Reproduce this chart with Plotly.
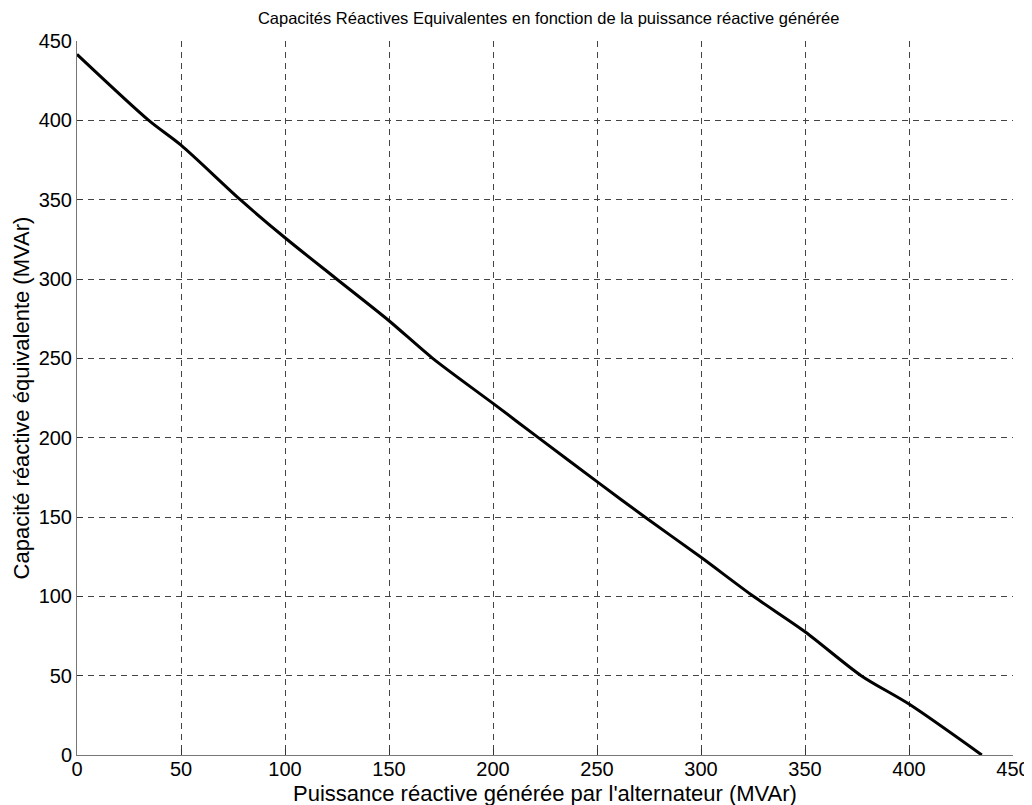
import plotly.graph_objects as go

q_gen = [0, 34.5, 50, 78.5, 100, 124.8, 150, 171, 200, 221.8, 250, 273, 300, 325.2, 350, 377, 400, 435]
cap_eq = [441.6, 400, 384.4, 350, 326, 300, 273.7, 250, 221.6, 200, 172.3, 150, 124.6, 100, 77.7, 50, 32.1, 0]

tick_vals = [0, 50, 100, 150, 200, 250, 300, 350, 400, 450]

title_text = "Capacités Réactives Equivalentes en fonction de la puissance réactive générée"
x_title = "Puissance réactive générée par l'alternateur (MVAr)"
y_title = "Capacité réactive équivalente (MVAr)"

fig = go.Figure()
fig.add_trace(go.Scatter(x=q_gen, y=cap_eq, mode="lines", line_shape="spline",
                         line=dict(color="black", width=3, smoothing=0.8), showlegend=False))

font_family = "Liberation Sans, Arial, sans-serif"
axis_common = dict(
    tickvals=tick_vals,
    range=[0, 450],
    showgrid=True,
    gridcolor="#444444",
    griddash="6px,5px",
    gridwidth=1,
    zeroline=False,
    showline=True,
    linecolor="#777777",
    linewidth=1,
    ticks="inside",
    ticklen=6,
    tickcolor="#333333",
    automargin=False,
    ticklabeloverflow="allow",
    tickfont=dict(family=font_family, size=20, color="black"),
)

fig.update_xaxes(**axis_common, ticklabelstandoff=-4)
fig.update_yaxes(**axis_common,
                 title=dict(text=y_title, font=dict(family=font_family, size=22, color="black"), standoff=2))

fig.add_annotation(text=x_title, xref="paper", yref="paper", x=0.5, y=0,
                   xanchor="center", yanchor="top", yshift=-24, showarrow=False,
                   font=dict(family=font_family, size=22, color="black"))

# page body adds an 8px offset, so the figure is sized to fit the 1032x805 window
fig.update_layout(
    width=1024, height=797,
    margin=dict(l=69, r=19, t=33, b=50),
    paper_bgcolor="white",
    plot_bgcolor="white",
    title=dict(text=title_text, x=0.528, xanchor="center", y=0.987, yanchor="middle",
               font=dict(family=font_family, size=16.5, color="black")),
)

fig.write_html("out.html")
